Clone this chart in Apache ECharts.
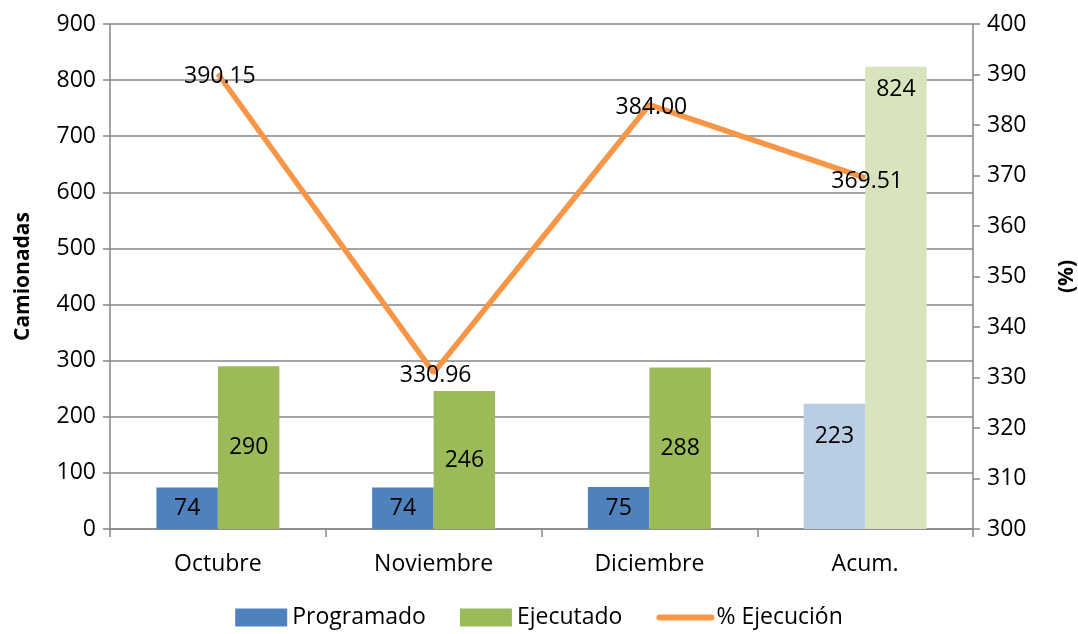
<!DOCTYPE html>
<html>
<head>
<meta charset="utf-8">
<script src="https://cdn.jsdelivr.net/npm/echarts@6/dist/echarts.min.js"></script>
<style>
  html, body { margin: 0; padding: 0; background: #fff; }
  #chart { width: 1078px; height: 634px; }
</style>
</head>
<body>
<div id="chart"></div>
<script>
const categories = ['Octubre', 'Noviembre', 'Diciembre', 'Acum.']
const programado = [74, 74, 75, 223]
const ejecutado = [290, 246, 288, 824]
const ejecucion = [390.15, 330.96, 384.00, 369.51]
const leftTicks = { min: 0, max: 900, interval: 100 }
const rightTicks = { min: 300, max: 400, interval: 10 }

const FONT = 'Open Sans'
const FS = 23
const axisGray = '#868686'

var myChart = echarts.init(document.getElementById('chart'))

const progData = programado.map((v, i) => {
  if (i === 3) {
    return {
      value: v,
      itemStyle: { color: '#B9CDE5' },
      label: { position: 'insideTop', distance: 21 }
    }
  }
  return v
})
const ejecData = ejecutado.map((v, i) => {
  if (i === 3) {
    return {
      value: v,
      itemStyle: { color: '#D7E4BD' },
      label: { position: 'insideTop', distance: 11 }
    }
  }
  return v
})

const option = {
  animation: false,
  textStyle: { fontFamily: FONT },
  grid: { left: 110, right: 105, top: 24, bottom: 105, outerBoundsMode: 'none', containLabel: false },
  legend: {
    bottom: 0,
    left: 'center',
    itemGap: 34,
    itemWidth: 52,
    itemHeight: 18,
    textStyle: { fontFamily: FONT, fontSize: FS, color: '#000' },
    data: [
      { name: 'Programado', icon: 'rect' },
      { name: 'Ejecutado', icon: 'rect' },
      { name: '% Ejecución', itemStyle: { opacity: 0 }, lineStyle: { width: 6, cap: 'round' } }
    ]
  },
  xAxis: {
    type: 'category',
    data: categories,
    axisLine: { lineStyle: { color: axisGray, width: 1.5 } },
    axisTick: { show: true, length: 8, lineStyle: { color: axisGray, width: 1.5 } },
    axisLabel: { fontSize: FS, color: '#000', margin: 24, fontFamily: FONT }
  },
  yAxis: [
    {
      type: 'value',
      min: leftTicks.min,
      max: leftTicks.max,
      interval: leftTicks.interval,
      name: 'Camionadas',
      nameLocation: 'middle',
      nameGap: 76,
      nameRotate: 90,
      nameTextStyle: { fontSize: 21, fontWeight: 'bold', color: '#000', fontFamily: FONT },
      axisLine: { show: true, lineStyle: { color: axisGray, width: 1.5 } },
      axisTick: { show: true, length: 7, lineStyle: { color: axisGray, width: 1.5 } },
      axisLabel: { fontSize: FS, color: '#000', margin: 14, fontFamily: FONT },
      splitLine: { lineStyle: { color: axisGray, width: 1.5 } }
    },
    {
      type: 'value',
      position: 'right',
      min: rightTicks.min,
      max: rightTicks.max,
      interval: rightTicks.interval,
      name: '(%)',
      nameLocation: 'middle',
      nameGap: 84,
      nameRotate: 90,
      nameTextStyle: { fontSize: 21, fontWeight: 'bold', color: '#000', fontFamily: FONT },
      axisLine: { show: true, lineStyle: { color: axisGray, width: 1.5 } },
      axisTick: { show: true, length: 7, lineStyle: { color: axisGray, width: 1.5 } },
      axisLabel: { fontSize: FS, color: '#000', margin: 14, fontFamily: FONT },
      splitLine: { show: false }
    }
  ],
  series: [
    {
      name: 'Programado',
      type: 'bar',
      yAxisIndex: 0,
      barGap: '0%',
      barCategoryGap: '43%',
      itemStyle: { color: '#4F81BD' },
      label: { show: true, position: 'inside', fontSize: FS, color: '#000', fontFamily: FONT },
      data: progData
    },
    {
      name: 'Ejecutado',
      type: 'bar',
      yAxisIndex: 0,
      itemStyle: { color: '#9BBB59' },
      label: { show: true, position: 'inside', fontSize: FS, color: '#000', fontFamily: FONT },
      data: ejecData
    },
    {
      name: '% Ejecución',
      type: 'line',
      yAxisIndex: 1,
      symbol: 'circle',
      symbolSize: 1,
      z: 5,
      lineStyle: { color: '#F79646', width: 5.5 },
      itemStyle: { color: '#F79646' },
      label: {
        show: true,
        position: 'inside',
        offset: [2, 3],
        fontSize: FS,
        color: '#000',
        fontFamily: FONT,
        formatter: (p) => p.value.toFixed(2)
      },
      data: ejecucion
    }
  ]
}

myChart.setOption(option)
</script>
</body>
</html>
